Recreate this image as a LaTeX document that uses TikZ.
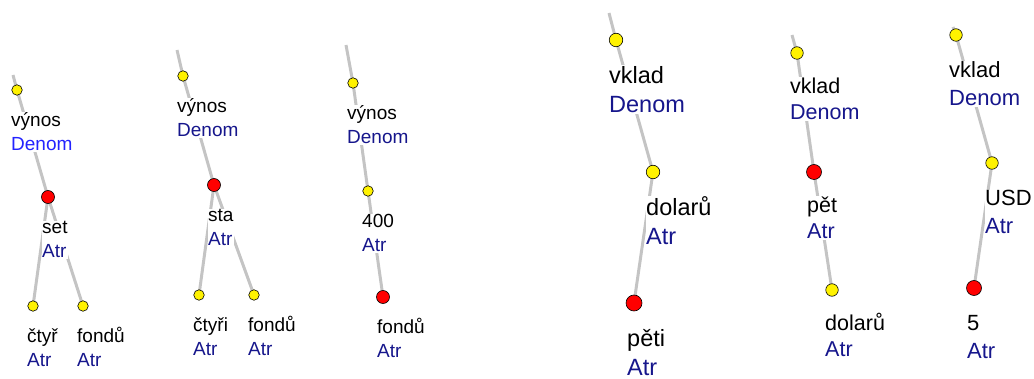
\documentclass[tikz,border=0pt]{standalone}
\usepackage{fontspec}
\setmainfont{Liberation Sans}
\usepackage{tikz}
\usetikzlibrary{positioning}
\definecolor{lineg}{RGB}{196,196,196}
\definecolor{fnavy}{RGB}{22,22,140}
\definecolor{fblue}{RGB}{35,35,255}
\newcommand{\afun}[1]{\textcolor{fnavy}{#1}}
\pgfdeclarelayer{bg}
\pgfsetlayers{bg,main}
\tikzset
{
    depline/.style  = {draw=lineg, line width=3pt},
    ydot/.style     = {circle, draw=black, line width=0.6pt, fill=yellow, inner sep=0pt, minimum size=#1},
    ydot/.default   = 10.5pt,
    rdot/.style     = {circle, draw=black, line width=0.6pt, fill=red, inner sep=0pt, minimum size=#1},
    rdot/.default   = 13pt,
    lbl/.style 2 args = {anchor=base west, align=left, fill=white, inner xsep=0pt, inner ysep=1pt, font=\fontsize{#1}{#2}\selectfont},
    lblsmall/.style = {lbl={19}{23.5}, xshift=-6pt, yshift=-60.5pt},
    lblfour/.style  = {lbl={23.5}{29}, xshift=-7pt, yshift=-72.5pt},
    lblfive/.style  = {lbl={21.5}{25.5}, xshift=-7pt, yshift=-66.5pt},
    lblsix/.style   = {lbl={22}{27.5}, xshift=-7pt, yshift=-70.5pt}
}

\begin{document}
\begin{tikzpicture}[x=1pt, y=-1pt]
    \useasboundingbox (0,0) rectangle (1034,379);

    % set
    \coordinate (s1) at (13,75);
    \node [ydot] (vynos1) at (17,90) {};
    \node [rdot] (set1) at (48,197) {};
    \node [ydot] (ctyr1) at (33,306) {};
    \node [ydot] (fondu1) at (83,306) {};
    \node [lblsmall] (vynos1l) at (vynos1) {výnos\\\textcolor{fblue}{Denom}};
    \node [lblsmall] (set1l) at (set1) {set\\\afun{Atr}};
    \node [lblsmall] (ctyr1l) at (ctyr1) {čtyř\\\afun{Atr}};
    \node [lblsmall] (fondu1l) at (fondu1) {fondů\\\afun{Atr}};

    % sta
    \coordinate (s2) at (177,50);
    \node [ydot] (vynos2) at (183,76) {};
    \node [rdot] (sta2) at (214,185) {};
    \node [ydot] (ctyri2) at (199,295) {};
    \node [ydot] (fondu2) at (254,295) {};
    \node [lblsmall] (vynos2l) at (vynos2) {výnos\\\afun{Denom}};
    \node [lblsmall] (sta2l) at (sta2) {sta\\\afun{Atr}};
    \node [lblsmall] (ctyri2l) at (ctyri2) {čtyři\\\afun{Atr}};
    \node [lblsmall] (fondu2l) at (fondu2) {fondů\\\afun{Atr}};

    % 400
    \coordinate (s3) at (346,45);
    \node [ydot] (vynos3) at (353,83) {};
    \node [ydot] (num3) at (368,191) {};
    \node [rdot] (fondu3) at (383,297) {};
    \node [lblsmall] (vynos3l) at (vynos3) {výnos\\\afun{Denom}};
    \node [lblsmall] (num3l) at (num3) {400\\\afun{Atr}};
    \node [lblsmall] (fondu3l) at (fondu3) {fondů\\\afun{Atr}};

    % pěti dolarů
    \coordinate (s4) at (609,13);
    \node [ydot=13.5pt] (vklad4) at (616,40) {};
    \node [ydot=13.5pt] (dolaru4) at (653,172) {};
    \node [rdot=16pt] (peti4) at (634,303) {};
    \node [lblfour] (vklad4l) at (vklad4) {vklad\\\afun{Denom}};
    \node [lblfour] (dolaru4l) at (dolaru4) {dolarů\\\afun{Atr}};
    \node [lblfour] (peti4l) at (peti4) {pěti\\\afun{Atr}};

    % pět dolarů
    \coordinate (s5) at (792,35);
    \node [ydot=12.5pt] (vklad5) at (797,53) {};
    \node [rdot=15pt] (pet5) at (814,172) {};
    \node [ydot=12.5pt] (dolaru5) at (832,290) {};
    \node [lblfive] (vklad5l) at (vklad5) {vklad\\\afun{Denom}};
    \node [lblfive] (pet5l) at (pet5) {pět\\\afun{Atr}};
    \node [lblfive] (dolaru5l) at (dolaru5) {dolarů\\\afun{Atr}};

    % 5 USD
    \coordinate (s6) at (953,27);
    \node [ydot=12.5pt] (vklad6) at (956,35) {};
    \node [ydot=12.5pt] (usd6) at (992,163) {};
    \node [rdot=15pt] (five6) at (974,288) {};
    \node [lblsix] (vklad6l) at (vklad6) {vklad\\\afun{Denom}};
    \node [lblsix] (usd6l) at (usd6) {USD\\\afun{Atr}};
    \node [lblsix] (five6l) at (five6) {5\\\afun{Atr}};

    \begin{pgfonlayer}{bg}
        \draw [depline] (s1) -- (vynos1.center) -- (set1.center) -- (ctyr1.center);
        \draw [depline] (set1.center) -- (fondu1.center);
        \draw [depline] (s2) -- (vynos2.center) -- (sta2.center) -- (ctyri2.center);
        \draw [depline] (sta2.center) -- (fondu2.center);
        \draw [depline] (s3) -- (vynos3.center) -- (num3.center) -- (fondu3.center);
        \draw [depline] (s4) -- (vklad4.center) -- (dolaru4.center) -- (peti4.center);
        \draw [depline] (s5) -- (vklad5.center) -- (pet5.center) -- (dolaru5.center);
        \draw [depline] (s6) -- (vklad6.center) -- (usd6.center) -- (five6.center);
    \end{pgfonlayer}
\end{tikzpicture}
\end{document}
